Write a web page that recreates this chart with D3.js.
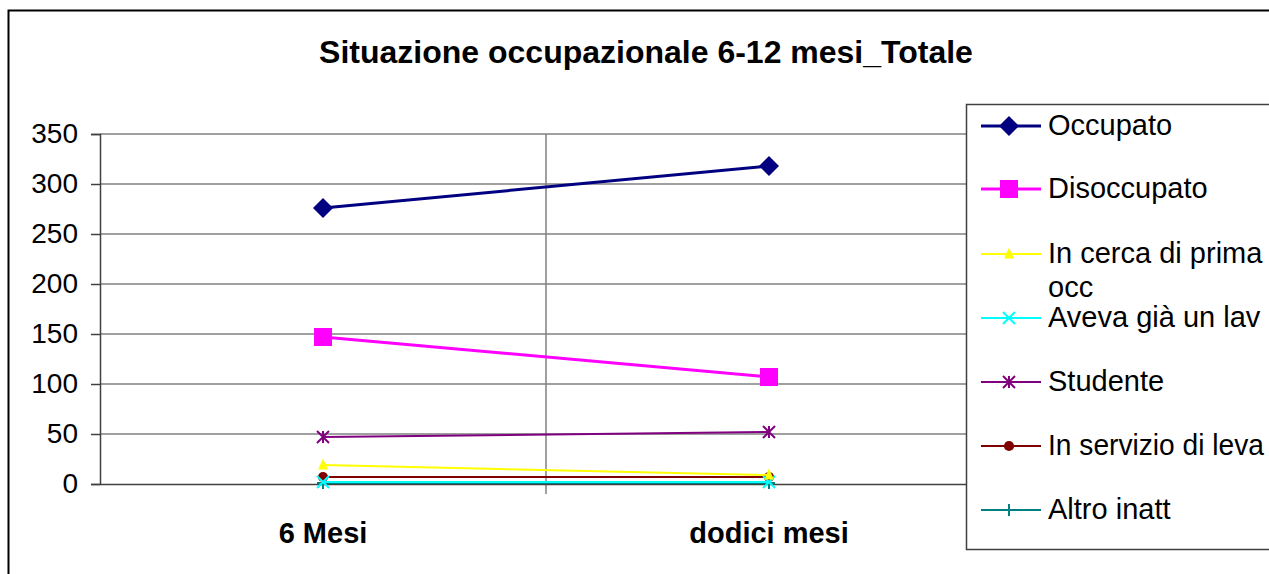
<!DOCTYPE html>
<html>
<head>
<meta charset="utf-8">
<script src="https://cdn.jsdelivr.net/npm/d3@7"></script>
<style>
body { margin: 0; background: #fff; }
text { font-family: Arial, "Liberation Sans", sans-serif; }
</style>
</head>
<body>
<svg id="chart" width="1269" height="574"></svg>
<script>
// dati
const categories = ["6 Mesi", "dodici mesi"];
const seriesNames = ["Occupato", "Disoccupato", "In cerca di prima occ", "Aveva già un lav", "Studente", "In servizio di leva", "Altro inatt"];
const occupato = [276, 318];
const disoccupato = [147, 107];
const inCerca = [19, 9];
const avevaGia = [2, 2];
const studente = [47, 52];
const servizioLeva = [7, 7];
const altroInatt = [1, 1];
const yTicks = [0, 50, 100, 150, 200, 250, 300, 350];

const series = [
  {name: seriesNames[0], values: occupato, color: "#000080", width: 3, marker: "diamond", size: 20},
  {name: seriesNames[1], values: disoccupato, color: "#ff00ff", width: 3, marker: "square", size: 18},
  {name: seriesNames[2], values: inCerca, color: "#ffff00", width: 2, marker: "triangle", size: 13},
  {name: seriesNames[3], values: avevaGia, color: "#00ffff", width: 2, marker: "x", size: 12},
  {name: seriesNames[4], values: studente, color: "#800080", width: 2, marker: "star", size: 12},
  {name: seriesNames[5], values: servizioLeva, color: "#800000", width: 2, marker: "circle", size: 12},
  {name: seriesNames[6], values: altroInatt, color: "#008080", width: 2, marker: "plus", size: 12}
];

const svg = d3.select("#chart");

// cornice esterna
svg.append("rect").attr("x", 8.5).attr("y", 10.5).attr("width", 1280).attr("height", 600)
  .attr("fill", "none").attr("stroke", "#000").attr("stroke-width", 2);

svg.append("text").attr("x", 646).attr("y", 63).attr("text-anchor", "middle")
  .attr("font-size", 32).attr("font-weight", "bold").text("Situazione occupazionale 6-12 mesi_Totale");

const x = d3.scaleBand().domain(categories).range([100, 992]);
const y = d3.scaleLinear().domain([0, 350]).range([484, 134]);

// griglia orizzontale
svg.append("g").selectAll("line").data(yTicks.slice(1)).enter().append("line")
  .attr("x1", 100).attr("x2", 992)
  .attr("y1", d => y(d)).attr("y2", d => y(d))
  .attr("stroke", "#808080").attr("stroke-width", 1.5);

// griglia verticale
svg.append("g").selectAll("line").data(categories.slice(1)).enter().append("line")
  .attr("x1", d => x(d)).attr("x2", d => x(d))
  .attr("y1", 134).attr("y2", 494)
  .attr("stroke", "#808080").attr("stroke-width", 1.5);

// asse y
const yAxis = svg.append("g").attr("transform", "translate(100,0)")
  .call(d3.axisLeft(y).tickValues(yTicks).tickSize(9).tickPadding(13));
yAxis.select(".domain").attr("stroke", "#404040").attr("stroke-width", 1.5);
yAxis.selectAll(".tick line").attr("stroke", "#404040").attr("stroke-width", 1.5);
yAxis.selectAll("text").attr("font-size", 28).attr("fill", "#000")
  .attr("font-family", "Arial, 'Liberation Sans', sans-serif");

// asse x
const xAxis = svg.append("g").attr("transform", "translate(0,484)")
  .call(d3.axisBottom(x).tickSize(0).tickPadding(38));
xAxis.select(".domain").attr("stroke", "#404040").attr("stroke-width", 1.5);
xAxis.selectAll("text").attr("font-size", 29).attr("font-weight", "bold").attr("fill", "#000")
  .attr("font-family", "Arial, 'Liberation Sans', sans-serif");

function drawMarker(g, s, cx, cy) {
  const r = s.size / 2;
  if (s.marker === "diamond") {
    g.append("path").attr("d", `M${cx},${cy - r}L${cx + r},${cy}L${cx},${cy + r}L${cx - r},${cy}Z`).attr("fill", s.color);
  } else if (s.marker === "square") {
    g.append("rect").attr("x", cx - r).attr("y", cy - r).attr("width", s.size).attr("height", s.size).attr("fill", s.color);
  } else if (s.marker === "triangle") {
    g.append("path").attr("d", `M${cx},${cy - r}L${cx + r * 0.75},${cy + r * 0.7}L${cx - r * 0.75},${cy + r * 0.7}Z`).attr("fill", s.color);
  } else if (s.marker === "circle") {
    g.append("circle").attr("cx", cx).attr("cy", cy).attr("r", r * 0.85).attr("fill", s.color);
  } else if (s.marker === "x") {
    g.append("path").attr("d", `M${cx - r},${cy - r}L${cx + r},${cy + r}M${cx - r},${cy + r}L${cx + r},${cy - r}`)
      .attr("stroke", s.color).attr("stroke-width", 2);
  } else if (s.marker === "star") {
    g.append("path").attr("d", `M${cx - r},${cy - r}L${cx + r},${cy + r}M${cx - r},${cy + r}L${cx + r},${cy - r}M${cx},${cy - r}L${cx},${cy + r}`)
      .attr("stroke", s.color).attr("stroke-width", 2);
  } else if (s.marker === "plus") {
    g.append("path").attr("d", `M${cx - r},${cy}L${cx + r},${cy}M${cx},${cy - r}L${cx},${cy + r}`)
      .attr("stroke", s.color).attr("stroke-width", 2);
  }
}

const line = d3.line().x((d, i) => x(categories[i]) + x.bandwidth() / 2).y(d => y(d));

// serie disegnate dall'ultima alla prima
series.slice().reverse().forEach(s => {
  const g = svg.append("g");
  g.append("path").datum(s.values).attr("d", line)
    .attr("fill", "none").attr("stroke", s.color).attr("stroke-width", s.width);
  s.values.forEach((v, i) => drawMarker(g, s, x(categories[i]) + x.bandwidth() / 2, y(v)));
});

// legenda
const legend = svg.append("g");
legend.append("rect").attr("x", 966.5).attr("y", 104.5).attr("width", 320).attr("height", 445)
  .attr("fill", "#fff").attr("stroke", "#404040").attr("stroke-width", 1.5);

const maxW = 216;
function fit(el) {
  const w = el.node().getComputedTextLength();
  if (w > maxW) el.attr("textLength", maxW).attr("lengthAdjust", "spacingAndGlyphs");
}

const legendY = [126, 189, 254, 318, 382, 446, 510];
series.forEach((s, i) => {
  const ly = legendY[i];
  legend.append("line").attr("x1", 981).attr("x2", 1041).attr("y1", ly).attr("y2", ly)
    .attr("stroke", s.color).attr("stroke-width", s.width);
  drawMarker(legend, s, 1009, ly);
  if (s.name === "In cerca di prima occ") {
    fit(legend.append("text").attr("x", 1048).attr("y", ly + 9).attr("font-size", 29).attr("fill", "#000").text("In cerca di prima"));
    legend.append("text").attr("x", 1048).attr("y", ly + 43).attr("font-size", 29).attr("fill", "#000").text("occ");
  } else {
    fit(legend.append("text").attr("x", 1048).attr("y", ly + 9).attr("font-size", 29).attr("fill", "#000").text(s.name));
  }
});
</script>
</body>
</html>
